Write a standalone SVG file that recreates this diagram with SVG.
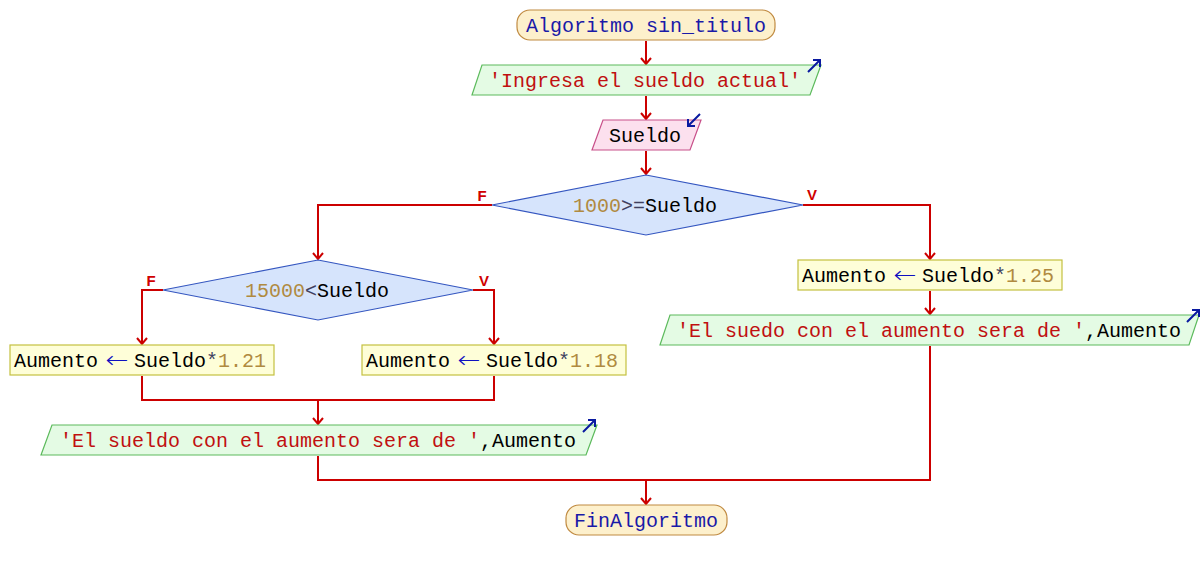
<svg xmlns="http://www.w3.org/2000/svg" width="1204" height="570" viewBox="0 0 1204 570">
<defs>
<style>
text{font-family:"Liberation Mono","Courier New",monospace;font-size:20px;text-anchor:middle;fill:#000}
text.s{text-anchor:start}
.term{fill:#fdf0cc;stroke:#c08a40;stroke-width:1.2}
.out{fill:#e4fbe4;stroke:#5cba5c;stroke-width:1.2}
.in{fill:#fce0ee;stroke:#c8508a;stroke-width:1.2}
.dec{fill:#d6e4fc;stroke:#3456c0;stroke-width:1.2}
.asg{fill:#fefed8;stroke:#c4c040;stroke-width:1.2}
.kw{fill:#1a1aa8}
.str{fill:#c01010}
.num{fill:#b08a40}
.op{fill:#404060}
text.arw{fill:#1010c0;font-family:"DejaVu Sans",sans-serif;font-size:24px;font-weight:200}
.lbl{font-family:"Liberation Sans",Arial,sans-serif;font-size:15px;font-weight:bold;fill:#d00000}
.con path{fill:none;stroke:#cc0000;stroke-width:2}
.ico{fill:none;stroke:#0a1aa0;stroke-width:2}
</style>
<marker id="ah" viewBox="0 0 12 12" refX="10" refY="6" markerWidth="12" markerHeight="12" markerUnits="userSpaceOnUse" orient="auto">
<path d="M4,1 L10,6 L4,11" fill="none" stroke="#cc0000" stroke-width="2"/>
</marker>
</defs>
<rect width="1204" height="570" fill="#fff"/>

<g class="con">
<path d="M646,41 V64" marker-end="url(#ah)"/>
<path d="M646,96 V119" marker-end="url(#ah)"/>
<path d="M646,151 V174" marker-end="url(#ah)"/>
<path d="M492,205 H318 V259" marker-end="url(#ah)"/>
<path d="M803,205 H930 V259" marker-end="url(#ah)"/>
<path d="M163,290 H142 V344" marker-end="url(#ah)"/>
<path d="M473,290 H494 V344" marker-end="url(#ah)"/>
<path d="M142,376 V400 H494 V376"/>
<path d="M318,400 V424" marker-end="url(#ah)"/>
<path d="M930,291 V314" marker-end="url(#ah)"/>
<path d="M318,456 V480 H930 V346"/>
<path d="M646,480 V504" marker-end="url(#ah)"/>
</g>

<g id="lbl-f1"><text class="lbl" x="482" y="201">F</text></g>
<g id="lbl-v1"><text class="lbl" x="812" y="200">V</text></g>
<g id="lbl-f2"><text class="lbl" x="151" y="286">F</text></g>
<g id="lbl-v2"><text class="lbl" x="484" y="286">V</text></g>

<g id="start">
<rect class="term" x="517" y="10" width="258" height="30" rx="13"/>
<text class="kw" x="646" y="32">Algoritmo sin_titulo</text>
</g>

<g id="out1">
<polygon class="out" points="482,65 821,65 810,95 472,95"/>
<text class="str" x="645" y="87">'Ingresa el sueldo actual'</text>
<path class="ico" d="M808,72 L820,60 M813,60 H820 V67"/>
</g>

<g id="in1">
<polygon class="in" points="603,120 701,120 690,150 592,150"/>
<text x="645" y="142">Sueldo</text>
<path class="ico" d="M700,114 L688,126 M688,119 V126 H695"/>
</g>

<g id="dec1">
<polygon class="dec" points="646,175 803,205 646,235 492,205"/>
<text x="645" y="212"><tspan class="num">1000</tspan><tspan class="op">&gt;=</tspan>Sueldo</text>
</g>

<g id="dec2">
<polygon class="dec" points="318,260 473,290 318,320 163,290"/>
<text x="317" y="297"><tspan class="num">15000</tspan><tspan class="op">&lt;</tspan>Sueldo</text>
</g>

<g id="asg1">
<rect class="asg" x="10" y="345" width="264" height="30"/>
<text class="s" x="14" y="367">Aumento</text>
<text class="arw" transform="translate(117,368) scale(1.15,1)">←</text>
<text class="s" x="134" y="367">Sueldo<tspan class="op">*</tspan><tspan class="num">1.21</tspan></text>
</g>

<g id="asg2">
<rect class="asg" x="362" y="345" width="264" height="30"/>
<text class="s" x="366" y="367">Aumento</text>
<text class="arw" transform="translate(469,368) scale(1.15,1)">←</text>
<text class="s" x="486" y="367">Sueldo<tspan class="op">*</tspan><tspan class="num">1.18</tspan></text>
</g>

<g id="asg3">
<rect class="asg" x="798" y="260" width="264" height="30"/>
<text class="s" x="802" y="282">Aumento</text>
<text class="arw" transform="translate(905,283) scale(1.15,1)">←</text>
<text class="s" x="922" y="282">Sueldo<tspan class="op">*</tspan><tspan class="num">1.25</tspan></text>
</g>

<g id="out2">
<polygon class="out" points="670,315 1199,315 1189,345 660,345"/>
<text x="929" y="337"><tspan class="str">'El suedo con el aumento sera de '</tspan>,Aumento</text>
<path class="ico" d="M1187,322 L1199,310 M1192,310 H1199 V317"/>
</g>

<g id="out3">
<polygon class="out" points="52,425 597,425 586,455 41,455"/>
<text x="318" y="447"><tspan class="str">'El sueldo con el aumento sera de '</tspan>,Aumento</text>
<path class="ico" d="M583,432 L595,420 M588,420 H595 V427"/>
</g>

<g id="end">
<rect class="term" x="566" y="505" width="161" height="30" rx="13"/>
<text class="kw" x="646" y="527">FinAlgoritmo</text>
</g>
</svg>
